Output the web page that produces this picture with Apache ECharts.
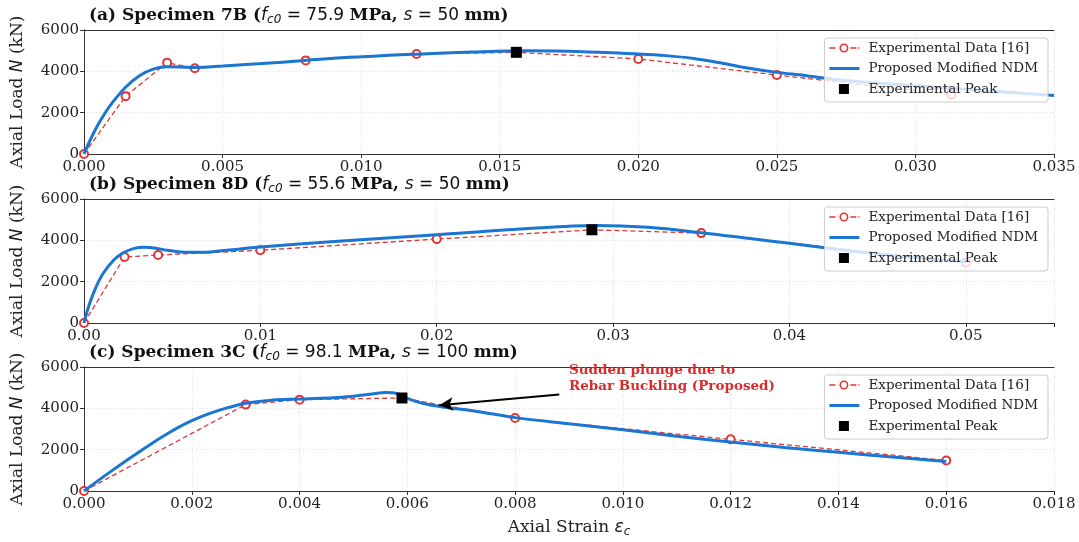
<!DOCTYPE html>
<html>
<head>
<meta charset="utf-8">
<script src="https://cdn.jsdelivr.net/npm/echarts@6/dist/echarts.min.js"></script>
<style>
html,body{margin:0;padding:0;background:#fff;}
#chart{width:1079px;height:542px;}
</style>
</head>
<body>
<div id="chart"></div>
<script>
// ---------- DATA ----------
// Panel (a) Specimen 7B
const expStrainA = [0, 0.0015, 0.003, 0.004, 0.008, 0.012, 0.0156, 0.020, 0.025, 0.0313];
const expLoadA   = [0, 2800, 4420, 4150, 4530, 4840, 4920, 4600, 3820, 2870];
const modStrainA = [0, 0.00025, 0.0005, 0.00075, 0.001, 0.0015, 0.002, 0.0025, 0.003, 0.0035, 0.004, 0.005, 0.007, 0.009, 0.012, 0.014, 0.016, 0.018, 0.020, 0.021, 0.022, 0.023, 0.024, 0.025, 0.026, 0.027, 0.029, 0.031, 0.033, 0.035];
const modLoadA   = [0, 750, 1400, 1960, 2450, 3230, 3790, 4110, 4220, 4210, 4190, 4260, 4430, 4630, 4830, 4930, 4990, 4950, 4840, 4760, 4620, 4400, 4150, 3950, 3800, 3620, 3400, 3210, 3020, 2830];
const peakA = [0.0156, 4920];

// Panel (b) Specimen 8D
const expStrainB = [0, 0.0023, 0.0042, 0.010, 0.020, 0.0288, 0.035, 0.050];
const expLoadB   = [0, 3190, 3290, 3520, 4060, 4510, 4350, 2920];
const modStrainB = [0, 0.0003, 0.0007, 0.0011, 0.0017, 0.0022, 0.0028, 0.0034, 0.004, 0.0047, 0.0059, 0.0068, 0.0081, 0.010, 0.0144, 0.020, 0.025, 0.029, 0.032, 0.035, 0.038, 0.040, 0.042, 0.044, 0.046, 0.048, 0.050];
const modLoadB   = [0, 900, 1770, 2420, 3060, 3390, 3600, 3660, 3630, 3520, 3420, 3420, 3520, 3680, 3950, 4270, 4560, 4720, 4630, 4370, 4060, 3860, 3640, 3430, 3250, 3100, 2970];
const peakB = [0.0288, 4510];

// Panel (c) Specimen 3C
const expStrainC = [0, 0.003, 0.004, 0.0059, 0.008, 0.012, 0.016];
const expLoadC   = [0, 4180, 4420, 4500, 3530, 2500, 1480];
const modStrainC = [0, 0.0005, 0.001, 0.0015, 0.002, 0.0025, 0.003, 0.0035, 0.004, 0.0048, 0.0053, 0.0056, 0.0058, 0.006, 0.0063, 0.0067, 0.0073, 0.008, 0.009, 0.010, 0.011, 0.012, 0.013, 0.014, 0.015, 0.016];
const modLoadC   = [0, 950, 1850, 2700, 3400, 3900, 4250, 4400, 4450, 4540, 4680, 4770, 4720, 4480, 4230, 4050, 3850, 3550, 3250, 2960, 2650, 2370, 2110, 1870, 1640, 1430];
const peakC = [0.0059, 4500];

// Annotation (panel c)
const annoText = 'Sudden plunge due to\nRebar Buckling (Proposed)';
const annoTextAt = [0.009, 4650];
const arrowFrom = [0.00882, 4670];
const arrowTo = [0.00659, 4150];

// Axes
const xMax = [0.035, 0.055, 0.018];
const xStep = [0.005, 0.01, 0.002];
const xDigits = [3, 2, 3];
const yTicks = [0, 2000, 4000, 6000];

const titles = [
  ['(a) Specimen 7B (', '75.9', '50'],
  ['(b) Specimen 8D (', '55.6', '50'],
  ['(c) Specimen 3C (', '98.1', '100']
];
const names = ['Experimental Data [16]', 'Proposed Modified NDM', 'Experimental Peak'];

// ---------- BUILD ----------
const RED = '#e03535', BLUE = '#1a76d2', ANNO = '#d92b2b';
const SERIF = 'DejaVu Serif', SANS = 'DejaVu Sans';
const gridTops = [30, 199, 367];
const gridH = 124;

// legend icons (30 x 14 box; tiny corner specks fix the bounding box)
const SPECK = ' M0,0L0.01,0L0,0.01Z M30,14L29.99,14L30,13.99Z';
const ICON_EXP = 'path://M0,6.3L6,6.3L6,7.7L0,7.7Z M19,7A4.5,4.5 0 1,0 10,7A4.5,4.5 0 1,0 19,7Z M17.4,7A2.9,2.9 0 1,1 11.6,7A2.9,2.9 0 1,1 17.4,7Z M21,6.3L27,6.3L27,7.7L21,7.7Z M28.8,6.3L30,6.3L30,7.7L28.8,7.7Z' + SPECK;
const ICON_MOD = 'path://M0,5.5L30,5.5L30,8.5L0,8.5Z' + SPECK;
const ICON_PEAK = 'path://M9.5,2L19.5,2L19.5,12L9.5,12Z' + SPECK;

const zip = (xs, ys) => xs.map((x, i) => [x, ys[i]]);
const exps = [zip(expStrainA, expLoadA), zip(expStrainB, expLoadB), zip(expStrainC, expLoadC)];
const mods = [zip(modStrainA, modLoadA), zip(modStrainB, modLoadB), zip(modStrainC, modLoadC)];
const peaks = [peakA, peakB, peakC];

const grid = [], xAxis = [], yAxis = [], series = [], title = [], legend = [];
const titleRich = {
  b: {fontFamily: SERIF, fontWeight: 'bold', fontSize: 17, color: '#111'},
  i: {fontFamily: SANS, fontStyle: 'italic', fontWeight: 'normal', fontSize: 17, color: '#111'},
  s: {fontFamily: SANS, fontStyle: 'italic', fontWeight: 'normal', fontSize: 12, color: '#111', padding: [8, 0, 0, 0]},
  r: {fontFamily: SANS, fontWeight: 'normal', fontSize: 17, color: '#111'}
};

for (let k = 0; k < 3; k++) {
  grid.push({left: 84, right: 25, top: gridTops[k], height: gridH});
  const t = titles[k];
  title.push({
    left: 84, top: gridTops[k] - 29,
    text: `{b|${t[0]}}{i|f}{s|c0}{r| = ${t[1]} }{b|MPa, }{i|s}{r| = ${t[2]} }{b|mm)}`,
    textStyle: {rich: titleRich, fontWeight: 'normal'}
  });
  const step = xStep[k], dg = xDigits[k], mx = xMax[k];
  xAxis.push({
    type: 'value', gridIndex: k, min: 0, max: mx, interval: step,
    axisLine: {show: true, lineStyle: {color: '#333', width: 1}},
    axisTick: {show: true, length: 4, lineStyle: {color: '#333'}},
    axisLabel: {
      fontFamily: SERIF, fontSize: 15, color: '#222', margin: 6,
      formatter: v => (Math.abs(v - mx) < 1e-9 && Math.abs(Math.round(v / step) * step - v) > 1e-9) ? '' : v.toFixed(dg)
    },
    splitLine: {show: true, lineStyle: {color: '#d8d8d8', type: [1, 2], width: 0.8}},
    name: k === 2 ? 'Axial Strain {i|ε}{s|c}' : '',
    nameLocation: 'middle', nameGap: 27,
    nameTextStyle: {
      fontFamily: SERIF, fontSize: 17, color: '#222',
      rich: {
        i: {fontFamily: SANS, fontStyle: 'italic', fontSize: 17, color: '#222'},
        s: {fontFamily: SANS, fontStyle: 'italic', fontSize: 12, color: '#222', padding: [8, 0, 0, 0]}
      }
    }
  });
  // top spine
  xAxis.push({
    type: 'value', gridIndex: k, min: 0, max: mx, position: 'top',
    axisLine: {show: true, onZero: false, lineStyle: {color: '#333', width: 1}},
    axisTick: {show: false}, axisLabel: {show: false}, splitLine: {show: false}
  });
  yAxis.push({
    type: 'value', gridIndex: k, min: 0, max: 6000, interval: 2000,
    axisLine: {show: true, lineStyle: {color: '#333', width: 1}},
    axisTick: {show: true, length: 4, lineStyle: {color: '#333'}},
    axisLabel: {fontFamily: SERIF, fontSize: 15, color: '#222', margin: 5,
      formatter: v => yTicks.includes(v) ? String(v) : ''},
    splitLine: {show: true, lineStyle: {color: '#d8d8d8', type: [1, 2], width: 0.8}},
    name: 'Axial Load {i|N} (kN)', nameLocation: 'middle', nameGap: 58, nameRotate: 90,
    nameTextStyle: {
      fontFamily: SERIF, fontSize: 17, color: '#222',
      rich: {i: {fontFamily: SANS, fontStyle: 'italic', fontSize: 17, color: '#222'}}
    }
  });
  // right spine
  yAxis.push({
    type: 'value', gridIndex: k, min: 0, max: 6000, position: 'right',
    axisLine: {show: true, lineStyle: {color: '#333', width: 1}},
    axisTick: {show: false}, axisLabel: {show: false}, splitLine: {show: false}
  });
  const xi = 2 * k, yi = 2 * k;
  series.push({
    name: names[0], type: 'line', xAxisIndex: xi, yAxisIndex: yi, data: exps[k],
    symbol: 'emptyCircle', symbolSize: 8, showAllSymbol: true,
    lineStyle: {color: RED, width: 1.3, type: [5, 3]},
    itemStyle: {color: RED, borderColor: RED, borderWidth: 1.6},
    z: 2, animation: false
  });
  const modS = {
    name: names[1], type: 'line', xAxisIndex: xi, yAxisIndex: yi, data: mods[k],
    symbol: 'none', smooth: 0.35,
    lineStyle: {color: BLUE, width: 3}, itemStyle: {color: BLUE},
    z: 3, animation: false
  };
  if (k === 2) {
    modS.markLine = {
      silent: true, symbol: ['none', 'arrow'], symbolSize: [10, 14], animation: false,
      lineStyle: {color: '#000', width: 2, type: 'solid'}, label: {show: false},
      data: [[{coord: arrowFrom}, {coord: arrowTo}]]
    };
  }
  series.push(modS);
  series.push({
    name: names[2], type: 'scatter', xAxisIndex: xi, yAxisIndex: yi, data: [peaks[k]],
    symbol: 'rect', symbolSize: 11, itemStyle: {color: '#000', opacity: 1}, z: 5, animation: false
  });
  const noBorder = c => ({color: c, borderWidth: 0, borderColor: 'transparent', opacity: 1});
  legend.push({
    data: [
      {name: names[0], icon: ICON_EXP, itemStyle: noBorder(RED)},
      {name: names[1], icon: ICON_MOD, itemStyle: noBorder(BLUE)},
      {name: names[2], icon: ICON_PEAK, itemStyle: noBorder('#000')}
    ],
    orient: 'vertical', right: 31, top: gridTops[k] + 8,
    itemWidth: 30, itemHeight: 14, itemGap: 6.5,
    padding: [3, 10, 6, 5],
    backgroundColor: 'rgba(255,255,255,0.8)', borderColor: '#cccccc', borderWidth: 1, borderRadius: 3,
    textStyle: {fontFamily: SERIF, fontSize: 13.5, color: '#222', padding: [0, 0, 0, 4]},
    selectedMode: false
  });
}
series.push({
  name: 'annotation', type: 'scatter', xAxisIndex: 4, yAxisIndex: 4, data: [annoTextAt],
  symbolSize: 0, silent: true, z: 6, animation: false, itemStyle: {opacity: 1},
  label: {show: true, position: [0, 0], align: 'left', verticalAlign: 'bottom', opacity: 1,
    formatter: annoText, fontFamily: SERIF, fontWeight: 'bold', fontSize: 13.5, lineHeight: 16, color: ANNO}
});

const chart = echarts.init(document.getElementById('chart'), null, {renderer: 'canvas'});
chart.setOption({animation: false, backgroundColor: '#fff', title, legend, grid, xAxis, yAxis, series});
</script>
</body>
</html>
